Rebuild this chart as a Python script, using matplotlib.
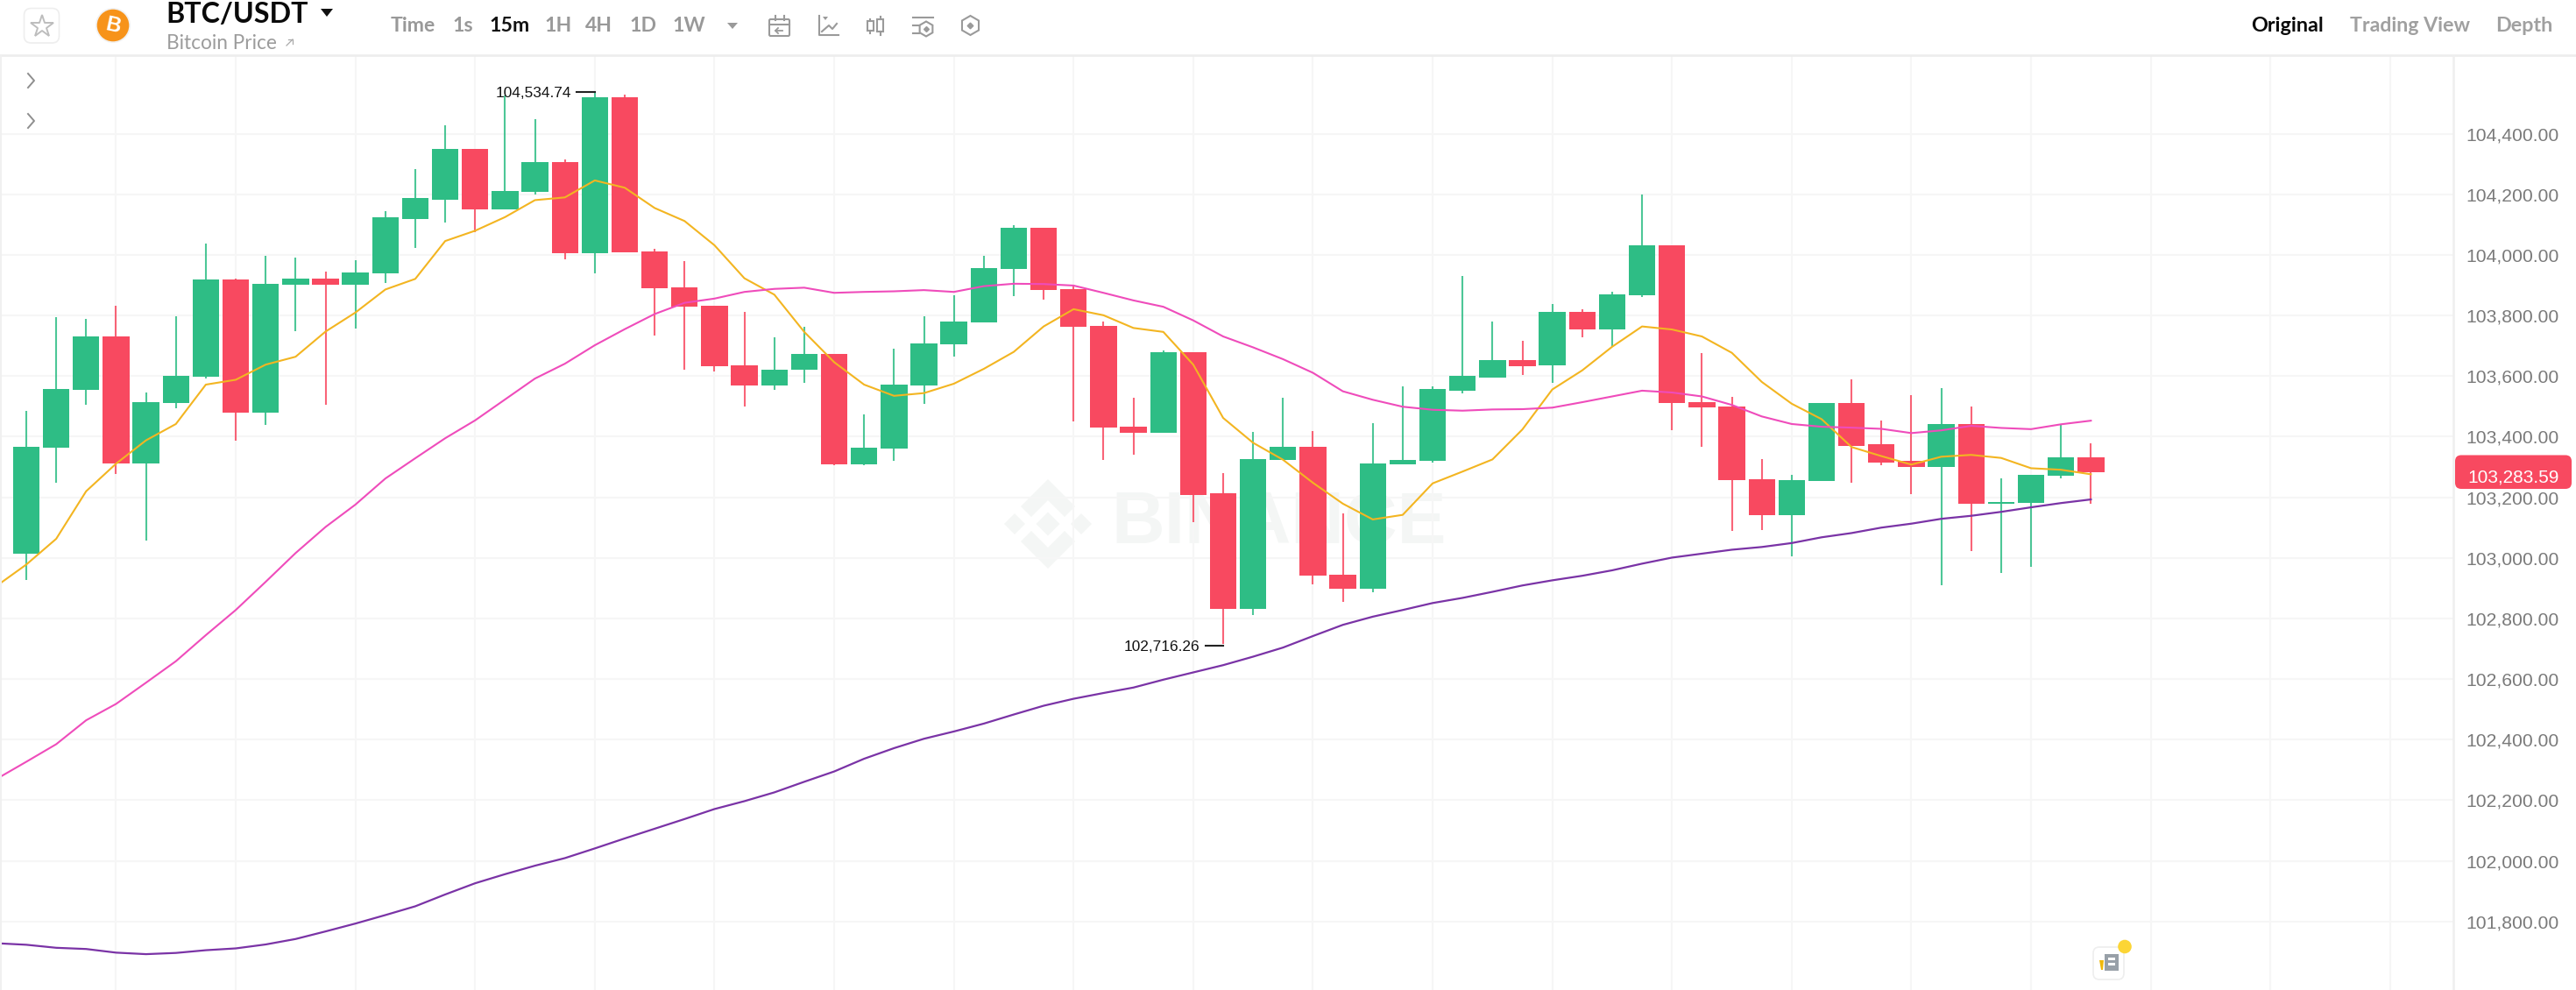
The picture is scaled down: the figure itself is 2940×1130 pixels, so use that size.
import numpy as np
import matplotlib
matplotlib.use("Agg")
import matplotlib.pyplot as plt
from matplotlib.patches import FancyBboxPatch, Polygon, Circle, Rectangle
from matplotlib.transforms import offset_copy

# ---------- data ----------
opens = [103015,103364,103556,103730,103311,103511,103597,103920,103480,103901,
         103921,103901,103939,104120,104183,104349,104151,104208,104307,104006,
         104521,104013,103892,103831,103637,103568,103620,103673,103310,103360,
         103569,103705,103776,103954,104091,103886,103766,103433,103414,103678,
         103212,102831,103322,103367,102944,102897,103309,103319,103553,103595,
         103654,103635,103811,103754,103868,104032,103515,103501,103261,103140,
         103254,103510,103374,103319,103300,103443,103178,103182,103270,103332]
highs = [103484,103796,103788,103833,103546,103797,104037,103922,103998,103991,
         103945,103984,104145,104284,104428,104349,104525,104447,104316,104534.74,
         104529,104021,103981,103833,103811,103727,103762,103674,103475,103691,
         103798,103868,103997,104099,104091,103896,103779,103529,103684,103678,
         103280,103417,103528,103418,103147,103445,103566,103566,103932,103779,
         103716,103838,103822,103880,104199,104032,103677,103532,103326,103275,
         103510,103590,103454,103536,103560,103499,103264,103274,103439,103377]
lows = [102926,103249,103506,103276,103057,103495,103592,103388,103440,103749,
        103506,103758,103908,104023,104107,104076,104151,104200,103986,103939,
        104010,103735,103620,103615,103500,103556,103578,103305,103305,103320,
        103507,103666,103776,103864,103853,103452,103324,103341,103414,103118,
        102716.26,102810,103322,102912,102855,102887,103309,103315,103543,103595,
        103605,103579,103728,103695,103862,103423,103366,103088,103092,103005,
        103254,103249,103306,103210,102911,103022,102950,102971,103262,103180]
closes = [103368,103559,103730,103311,103515,103600,103920,103480,103904,103921,
          103901,103942,104124,104187,104349,104151,104212,104307,104006,104521,
          104010,103889,103829,103633,103568,103622,103673,103310,103364,103572,
          103708,103779,103957,104091,103883,103763,103430,103414,103678,103209,
          102831,103325,103367,102942,102897,103313,103322,103558,103600,103654,
          103633,103811,103754,103871,104032,103512,103497,103258,103140,103257,
          103510,103371,103316,103300,103443,103179,103185,103274,103332,103283.59]
# moving averages, starting one candle before the first visible candle
ma7 = [102907,102978,103063,103220,103311,103388,103442,103572,103588,103638,103664,
       103747,103810,103886,103921,104046,104080,104125,104181,104190,104246,104222,
       104155,104112,104032,103923,103869,103746,103646,103572,103535,103544,103575,
       103624,103680,103764,103821,103801,103759,103746,103638,103462,103380,103324,
       103248,103179,103127,103142,103246,103285,103325,103424,103556,103619,103697,
       103764,103754,103731,103677,103581,103509,103458,103366,103336,103308,103334,
       103340,103330,103296,103291,103276]
ma25 = [102270,102327,102385,102464,102518,102588,102659,102745,102828,102921,103016,
        103102,103176,103262,103329,103395,103454,103523,103592,103641,103702,103755,
        103805,103842,103856,103878,103888,103892,103875,103878,103880,103884,103878,
        103897,103905,103904,103899,103875,103850,103829,103784,103731,103695,103656,
        103611,103550,103522,103499,103489,103486,103490,103491,103496,103514,103533,
        103552,103546,103533,103505,103467,103442,103433,103430,103426,103412,103421,
        103436,103429,103425,103441,103453]
ma99 = [101728,101723,101713,101709,101697,101692,101696,101705,101711,101724,101742,
        101767,101793,101821,101850,101889,101926,101956,101984,102009,102041,102074,
        102106,102138,102171,102197,102226,102261,102295,102337,102372,102403,102427,
        102453,102483,102512,102535,102554,102572,102598,102622,102646,102674,102704,
        102742,102779,102806,102828,102851,102868,102888,102909,102926,102941,102959,
        102981,103001,103014,103027,103036,103049,103068,103082,103100,103113,103129,
        103139,103152,103167,103181,103193]
price_ticks = [104400,104200,104000,103800,103600,103400,103200,103000,102800,
               102600,102400,102200,102000,101800]
time_grid = list(range(3, 80, 4))
last_price = 103283.59
high_label = "104,534.74"
low_label = "102,716.26"

# ---------- style ----------
GREEN = "#2EBD85"
RED = "#F84960"
GRID = "#F6F6F6"
W, H = 2940, 1130
FONT = ["Liberation Sans", "DejaVu Sans"]
UI = ["Lato", "DejaVu Sans"]

fig = plt.figure(figsize=(W / 100, H / 100), dpi=100, facecolor="white")

def px_axes(z):
    a = fig.add_axes([0, 0, 1, 1], zorder=z)
    a.set_xlim(0, W)
    a.set_ylim(H, 0)
    a.axis("off")
    a.patch.set_alpha(0)
    return a

back = px_axes(0)

# main chart
top_px, right_px = 64, 2800
ax = fig.add_axes([0, 0, right_px / W, (H - top_px) / H], zorder=1)
ax.patch.set_alpha(0)
ax.set_xlim(-30 / 34.15, (right_px - 30) / 34.15)
ax.set_ylim(104400 - (H - 152.7) * 2.892, 104400 + (152.7 - top_px) * 2.892)
for s in ax.spines.values():
    s.set_visible(False)
ax.yaxis.tick_right()
ax.set_yticks(price_ticks)
ax.set_yticklabels([f"{p:,.2f}" for p in price_ticks], fontfamily=FONT,
                   fontsize=15.2, color="#7A7A7A")
ax.tick_params(axis="y", length=0, pad=10.5)
ax.set_xticks(time_grid)
ax.tick_params(axis="x", length=0, labelbottom=False)
ax.grid(True, color=GRID, linewidth=1.5)
ax.set_axisbelow(True)

x = np.arange(len(opens))
colors = [GREEN if c >= o else RED for o, c in zip(opens, closes)]
ax.vlines(x, lows, highs, colors=colors, linewidth=1.5, alpha=0.85, zorder=2)
ax.bar(x, np.abs(np.array(closes) - np.array(opens)),
       bottom=np.minimum(opens, closes), width=0.89, color=colors, zorder=3)

ma_x = np.arange(-1, len(opens))
ax.plot(ma_x, ma7, color="#F3B521", lw=1.5, zorder=4, solid_joinstyle="round")
ax.plot(ma_x, ma25, color="#EF4CBB", lw=1.5, zorder=4, solid_joinstyle="round")
ax.plot(ma_x, ma99, color="#7A33A6", lw=1.6, zorder=4, solid_joinstyle="round")

# extreme labels
hi_i = int(np.argmax(highs))
lo_i = int(np.argmin(lows))
for i, p, lab, dy in [(hi_i, highs[hi_i], high_label, 0.8), (lo_i, lows[lo_i], low_label, -1.5)]:
    tr = offset_copy(ax.transData, fig=fig, x=0, y=dy, units="points")
    ax.plot([i - 0.6, i], [p, p], color="#222222", lw=1.5, zorder=5, transform=tr)
    ax.annotate(lab, xy=(i - 0.6, p), xytext=(-4.5, dy - 0.9), textcoords="offset points",
                ha="right", va="center", fontsize=12.4, color="#111111",
                fontfamily=FONT, zorder=6)

# ---------- overlay in pixels ----------
ov = px_axes(2)

def txt(a, xp, yp, s, size, color, weight="normal", ha="left", fam=UI, **k):
    return a.text(xp, yp, s, fontsize=size, color=color, fontweight=weight, ha=ha,
                  va="center", fontfamily=fam, **k)

def rrect(a, x0, y0, x1, y1, r, fc, ec="none", lw=0, z=1):
    a.add_patch(FancyBboxPatch((x0, y0), x1 - x0, y1 - y0,
                               boxstyle=f"round,pad=0,rounding_size={r}",
                               fc=fc, ec=ec, lw=lw, zorder=z))

def hexagon(a, cx, cy, r, **k):
    t = np.deg2rad(np.arange(30, 390, 60))
    a.add_patch(Polygon(np.c_[cx + r * np.cos(t), cy + r * np.sin(t)], closed=True, **k))

# watermark
WM = "#F4F6F5"
cx, cy, u = 1196, 598, 50
def dia(c_x, c_y, r):
    back.add_patch(Polygon([(c_x - r, c_y), (c_x, c_y - r), (c_x + r, c_y), (c_x, c_y + r)],
                           closed=True, fc=WM, ec="none"))
dia(cx, cy, 0.27 * u)
dia(cx - 0.76 * u, cy, 0.24 * u)
dia(cx + 0.76 * u, cy, 0.24 * u)
for sgn in (-1, 1):
    back.add_patch(Polygon([(cx - 0.62 * u, cy + sgn * 0.40 * u), (cx, cy + sgn * 1.02 * u),
                            (cx + 0.62 * u, cy + sgn * 0.40 * u),
                            (cx + 0.38 * u, cy + sgn * 0.16 * u), (cx, cy + sgn * 0.54 * u),
                            (cx - 0.38 * u, cy + sgn * 0.16 * u)], closed=True, fc=WM, ec="none"))
txt(back, 1268, 598, "BINANCE", 60.5, WM, weight="bold", fam=["Liberation Sans", "DejaVu Sans"])

# frame lines
ov.plot([0, W], [63, 63], color="#EEEEEE", lw=2)
ov.plot([right_px, right_px], [64, H], color="#EFEFEF", lw=1.8)
ov.plot([1, 1], [64, H], color="#F0F0F0", lw=1.5)

# chevrons
for yc in (92, 138):
    ov.plot([32, 39, 32], [yc - 8, yc, yc + 8], color="#8E8E8E", lw=1.4)

# star button
rrect(ov, 27.5, 9.5, 67.5, 49, 8, "white", "#EEEEEE", 1.2)
ov.plot([48], [30], marker="*", ms=19, mfc="white", mec="#BDBDBD", mew=1.4)

# coin
ov.add_patch(Circle((129, 29), 20, fc="#F1F1F1", ec="none"))
ov.add_patch(Circle((129, 29), 18.3, fc="#F7931A", ec="none"))
txt(ov, 129, 29, "B", 17, "white", weight="bold", ha="center", rotation=-12,
    fam=["Liberation Sans"])

# title
txt(ov, 189, 16.5, "BTC/USDT", 23.2, "#0A0A0A", weight="bold")
ov.add_patch(Polygon([(366, 10), (380, 10), (373, 19)], closed=True, fc="#111111", ec="none"))
txt(ov, 190, 49.5, "Bitcoin Price", 16.3, "#9C9C9C")
ov.plot([327, 334], [52, 45], color="#AAAAAA", lw=0.9)
ov.plot([329, 334, 334], [45, 45, 50], color="#AAAAAA", lw=0.9)

# interval tabs
tabs = [("Time", 446, "#999999", "bold"), ("1s", 516, "#999999", "bold"),
        ("15m", 558, "#111111", "bold"), ("1H", 621, "#999999", "bold"),
        ("4H", 668, "#999999", "bold"), ("1D", 718, "#999999", "bold"),
        ("1W", 767, "#999999", "bold")]
for s, xp, c, w in tabs:
    txt(ov, xp, 29.5, s, 16.6, c, weight=w)
IC = "#9A9A9A"
ov.add_patch(Polygon([(830, 26), (842, 26), (836, 33)], closed=True, fc=IC, ec="none"))

# calendar icon
rrect(ov, 878, 22, 901, 41, 1.5, "white", IC, 1.5)
ov.plot([878, 901], [28, 28], color=IC, lw=1.5)
for xp in (885, 895):
    ov.plot([xp, xp], [18, 23], color=IC, lw=1.5)
ov.plot([893, 885], [35, 35], color=IC, lw=1.3)
ov.plot([888, 885, 888], [32, 35, 38], color=IC, lw=1.3)
# indicator icon
ov.plot([935, 935, 957], [18, 40, 40], color=IC, lw=1.5)
ov.add_patch(Polygon([(939, 19), (945, 19), (942, 23)], closed=True, fc=IC, ec="none"))
ov.plot([938, 946, 950, 955], [36, 29, 33, 27], color=IC, lw=1.5)
# candle icon
for xp, y0, y1, wy0, wy1 in [(993.5, 24, 35, 22, 38), (1005, 22, 36, 19, 40)]:
    ov.add_patch(Rectangle((xp - 3.5, y0), 7, y1 - y0, fc="white", ec=IC, lw=1.5))
    ov.plot([xp, xp], [wy0, y0], color=IC, lw=1.5)
    ov.plot([xp, xp], [y1, wy1], color=IC, lw=1.5)
# settings icon
ov.plot([1042, 1065], [20, 20], color=IC, lw=1.5)
ov.plot([1042, 1049], [29, 29], color=IC, lw=1.5)
ov.plot([1042, 1049], [38, 38], color=IC, lw=1.5)
hexagon(ov, 1057, 33, 8.5, fc="white", ec=IC, lw=1.5)
ov.plot([1057], [33], marker="D", ms=3, color=IC)
# hexagon icon
hexagon(ov, 1107.5, 29, 11, fc="white", ec=IC, lw=1.5)
ov.plot([1107.5], [29], marker="D", ms=3.4, color=IC)

# view tabs
txt(ov, 2569, 29, "Original", 16.8, "#0A0A0A", weight="bold")
txt(ov, 2682, 29, "Trading View", 16.7, "#A0A0A0", weight="bold")
txt(ov, 2848, 29, "Depth", 16.8, "#A0A0A0", weight="bold")

# last price badge
rrect(ov, 2802, 519.5, 2935, 558, 7, RED)
txt(ov, 2869, 545, f"{last_price:,.2f}", 15, "white", ha="center", fam=FONT, zorder=5)

# news button
rrect(ov, 2389, 1081, 2424, 1118, 7, "white", "#EEEEEE", 1.2)
ov.add_patch(Rectangle((2402.5, 1089), 15.5, 19, fc="#98A0A8", ec="none", zorder=3))
ov.add_patch(Rectangle((2406, 1093), 8, 2.5, fc="white", ec="none", zorder=4))
ov.add_patch(Rectangle((2406, 1099), 8, 2.5, fc="white", ec="none", zorder=4))
ov.add_patch(Polygon([(2396, 1096), (2401, 1096), (2400, 1107), (2398, 1107)],
                     closed=True, fc="#F0B90B", ec="none", zorder=3))
ov.add_patch(Circle((2425, 1080.5), 7.8, fc="#FCD535", ec="none", zorder=5))

fig.savefig("out.png", dpi=100, facecolor="white")
